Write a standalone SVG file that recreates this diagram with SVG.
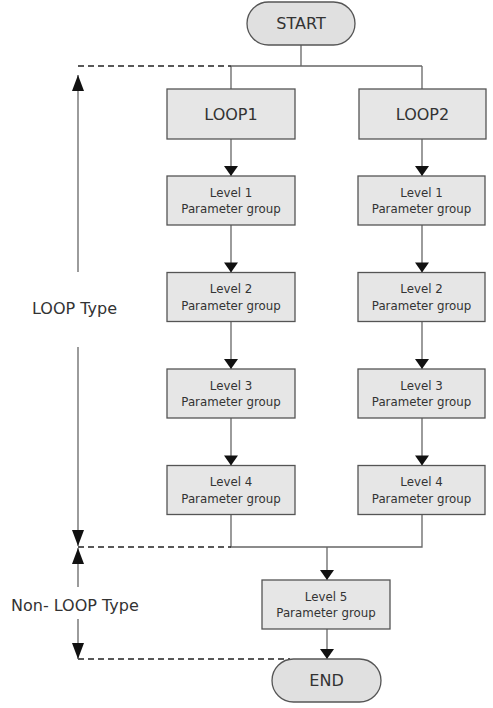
<svg xmlns="http://www.w3.org/2000/svg" width="493" height="708" viewBox="0 0 493 708">
<style>
.box{fill:#e6e6e6;stroke:#555;stroke-width:1.3}
.pill{fill:#e0e0e0;stroke:#555;stroke-width:1.3}
.ln{fill:none;stroke:#666;stroke-width:1.3}
.dash{fill:none;stroke:#222;stroke-width:1.3;stroke-dasharray:6 4}
.big{font-family:"DejaVu Sans","Liberation Sans",sans-serif;font-size:16px;fill:#333;text-anchor:middle}
.sm{font-family:"DejaVu Sans","Liberation Sans",sans-serif;font-size:11.8px;fill:#333;text-anchor:middle}
.lbl{font-family:"DejaVu Sans","Liberation Sans",sans-serif;font-size:16px;fill:#333}
</style>
<defs>
<marker id="ah" markerUnits="userSpaceOnUse" markerWidth="12" markerHeight="14" viewBox="0 0 10 14" refX="10" refY="7" orient="auto">
<path d="M0,0 L10,7 L0,14 Z" fill="#111"/>
</marker>
<marker id="ah2" markerUnits="userSpaceOnUse" markerWidth="16" markerHeight="12" viewBox="0 0 16 12" refX="16" refY="6" orient="auto">
<path d="M0,0 L16,6 L0,12 Z" fill="#111"/>
</marker>
</defs>
<g id="connectors">
<path class="ln" d="M301,45 V66 M231,66 H422 M231,66 V89 M422,66 V89"/>
<path class="ln" d="M231,139 V176" marker-end="url(#ah)"/>
<path class="ln" d="M422,139 V176" marker-end="url(#ah)"/>
<path class="ln" d="M231,225 V272.5" marker-end="url(#ah)"/>
<path class="ln" d="M422,225 V272.5" marker-end="url(#ah)"/>
<path class="ln" d="M231,321.5 V369" marker-end="url(#ah)"/>
<path class="ln" d="M422,321.5 V369" marker-end="url(#ah)"/>
<path class="ln" d="M231,418 V465.5" marker-end="url(#ah)"/>
<path class="ln" d="M422,418 V465.5" marker-end="url(#ah)"/>
<path class="ln" d="M231,514.5 V547 H422 V514.5"/>
<path class="ln" d="M327,547 V580" marker-end="url(#ah)"/>
<path class="ln" d="M327,629 V659" marker-end="url(#ah)"/>
<path class="dash" d="M78,66 H231"/>
<path class="dash" d="M78,547 H231"/>
<path class="dash" d="M78,659 H290"/>
<path class="ln" d="M78,272 V75" marker-end="url(#ah2)"/>
<path class="ln" d="M78,347 V546" marker-end="url(#ah2)"/>
<path class="ln" d="M78,587 V548" marker-end="url(#ah2)"/>
<path class="ln" d="M78,619 V659" marker-end="url(#ah2)"/>
</g>
<g id="start"><rect class="pill" x="247" y="2" width="108" height="43" rx="21.5"/><text class="big" x="301" y="29">START</text></g>
<g id="loop1"><rect class="box" x="167" y="89" width="128" height="50"/><text class="big" x="231" y="120">LOOP1</text></g>
<g id="loop2"><rect class="box" x="359" y="89" width="127" height="50"/><text class="big" x="422.5" y="120">LOOP2</text></g>
<g id="l1a"><rect class="box" x="167" y="176" width="128" height="49"/><text class="sm" x="231" y="196.5">Level 1</text><text class="sm" x="231" y="213">Parameter group</text></g>
<g id="l1b"><rect class="box" x="358" y="176" width="127" height="49"/><text class="sm" x="421.5" y="196.5">Level 1</text><text class="sm" x="421.5" y="213">Parameter group</text></g>
<g id="l2a"><rect class="box" x="167" y="272.5" width="128" height="49"/><text class="sm" x="231" y="293">Level 2</text><text class="sm" x="231" y="309.5">Parameter group</text></g>
<g id="l2b"><rect class="box" x="358" y="272.5" width="127" height="49"/><text class="sm" x="421.5" y="293">Level 2</text><text class="sm" x="421.5" y="309.5">Parameter group</text></g>
<g id="l3a"><rect class="box" x="167" y="369" width="128" height="49"/><text class="sm" x="231" y="389.5">Level 3</text><text class="sm" x="231" y="406">Parameter group</text></g>
<g id="l3b"><rect class="box" x="358" y="369" width="127" height="49"/><text class="sm" x="421.5" y="389.5">Level 3</text><text class="sm" x="421.5" y="406">Parameter group</text></g>
<g id="l4a"><rect class="box" x="167" y="465.5" width="128" height="49"/><text class="sm" x="231" y="486">Level 4</text><text class="sm" x="231" y="502.5">Parameter group</text></g>
<g id="l4b"><rect class="box" x="358" y="465.5" width="127" height="49"/><text class="sm" x="421.5" y="486">Level 4</text><text class="sm" x="421.5" y="502.5">Parameter group</text></g>
<g id="l5"><rect class="box" x="262" y="580" width="128" height="49"/><text class="sm" x="326" y="600.5">Level 5</text><text class="sm" x="326" y="617">Parameter group</text></g>
<g id="end"><rect class="pill" x="272" y="659" width="109" height="43" rx="21.5"/><text class="big" x="326.5" y="686">END</text></g>
<g id="labels"><text class="lbl" x="32" y="314">LOOP Type</text><text class="lbl" x="11" y="611">Non- LOOP Type</text></g>
</svg>
